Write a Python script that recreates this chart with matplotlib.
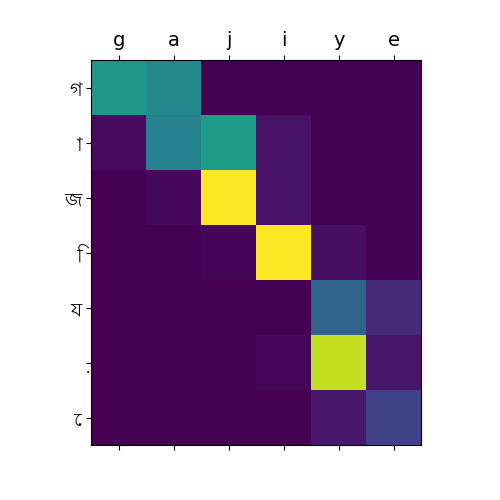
import numpy as np
import matplotlib
matplotlib.use('Agg')
import matplotlib.pyplot as plt

# 输入（罗马字）与输出（孟加拉文字符）
input_chars = ['g', 'a', 'j', 'i', 'y', 'e']
output_chars = ['গ', 'া', 'জ', 'ি', 'য', '়', 'ে']

# 注意力权重，行=输出字符，列=输入字符
attention = np.array([
    [0.53, 0.47, 0.00, 0.00, 0.00, 0.00],
    [0.03, 0.44, 0.56, 0.05, 0.00, 0.00],
    [0.00, 0.02, 1.00, 0.05, 0.00, 0.00],
    [0.00, 0.00, 0.015, 1.00, 0.04, 0.00],
    [0.00, 0.00, 0.00, 0.00, 0.32, 0.12],
    [0.00, 0.00, 0.00, 0.02, 0.91, 0.06],
    [0.00, 0.00, 0.00, 0.00, 0.07, 0.20],
])

fig = plt.figure(figsize=(5, 5))
ax = fig.add_subplot(1, 1, 1)
ax.matshow(attention, cmap='viridis')

ax.set_xticks(range(len(input_chars)))
ax.set_yticks(range(len(output_chars)))
ax.set_xticklabels(input_chars, fontdict={'fontsize': 14})
ax.set_yticklabels(output_chars, fontdict={'fontsize': 14, 'family': 'Lohit Bengali'})

plt.savefig('out.png', dpi=100)
